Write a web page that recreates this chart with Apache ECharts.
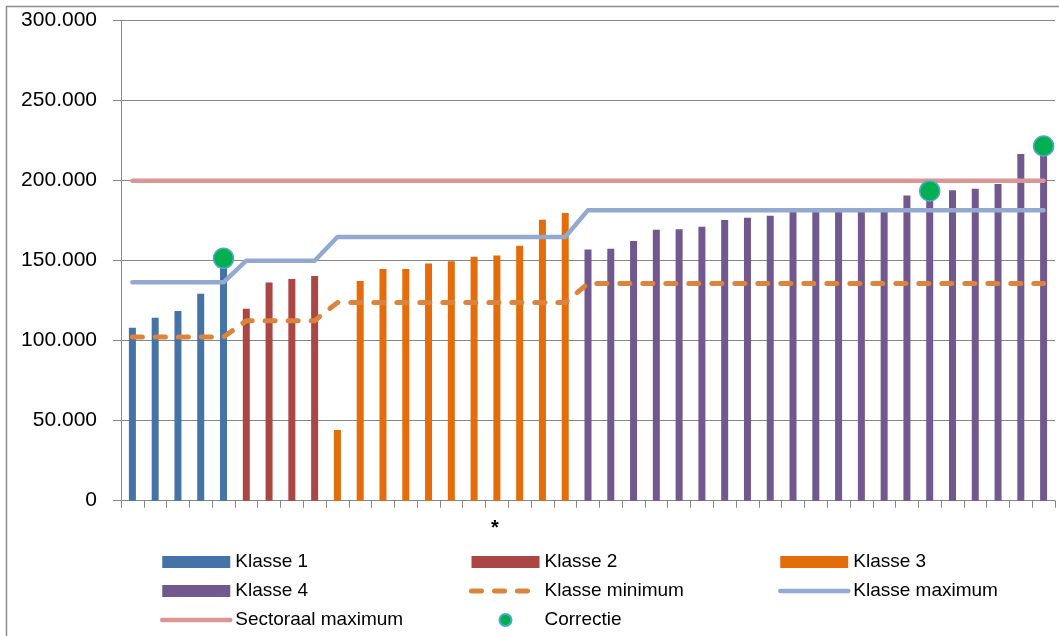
<!DOCTYPE html>
<html>
<head>
<meta charset="utf-8">
<style>
  html, body { margin: 0; padding: 0; background: #fff; }
  #main { width: 1059px; height: 636px; }
</style>
<script src="https://cdn.jsdelivr.net/npm/echarts@6/dist/echarts.min.js"></script>
</head>
<body>
<div id="main"></div>
<script>
// waarden per klasse, van links naar rechts
var klasse1 = [108100, 114400, 118500, 129400, 151000];
var klasse2 = [120000, 136400, 138600, 140400];
var klasse3 = [44200, 137300, 144800, 144800, 148300, 149600, 152500, 153300, 159400, 175600, 179800];
var klasse4 = [157000, 157500, 162300, 169400, 169600, 171200, 175400, 176900, 178100,
  180500, 181000, 181000, 181000, 181500, 190800, 193600, 194000, 195000, 198000, 216700, 221700];

// grenzen per klasse (1 t/m 4)
var klasseMin = [102300, 112500, 123800, 135800];
var klasseMax = [136500, 150000, 164800, 181600];
var sectoraalMax = 200000;

// correctiepunten: positie (0-based) en waarde
var correctieIdx = [4, 35, 40];
var correctieVal = [151500, 193600, 221700];

var yTicks = [0, 50000, 100000, 150000, 200000, 250000, 300000];

var groepen = [klasse1, klasse2, klasse3, klasse4];
var n = 0;
groepen.forEach(function (g) { n += g.length; });
var categories = [];
for (var i = 0; i < n; i++) categories.push(String(i + 1));

function barData(k) {
  var out = [];
  groepen.forEach(function (g, gi) {
    g.forEach(function (v) { out.push(gi === k ? v : '-'); });
  });
  return out;
}
function stepData(levels) {
  var out = [];
  groepen.forEach(function (g, gi) {
    g.forEach(function () { out.push(levels[gi]); });
  });
  return out;
}
var sectoraalData = categories.map(function () { return sectoraalMax; });
var correctieData = categories.map(function () { return '-'; });
correctieIdx.forEach(function (idx, j) { correctieData[idx] = correctieVal[j]; });

function fmt(v) {
  return String(v).replace(/\B(?=(\d{3})+(?!\d))/g, '.');
}

var font = 'Liberation Sans';
var gridGrey = '#868686';

var myChart = echarts.init(document.getElementById('main'));

// lijn-items in de legenda zonder bolletje, balken als rechthoek
function lijnItem(name) {
  return { name: name, itemStyle: { opacity: 0 } };
}
function balkItem(name) {
  return { name: name, icon: 'rect' };
}

var legendBase = {
  orient: 'vertical',
  top: 552,
  padding: 0,
  itemWidth: 68,
  itemHeight: 12,
  itemGap: 9,
  selectedMode: false,
  lineStyle: { width: 'inherit' },
  textStyle: { fontFamily: font, fontSize: 19, color: '#000', lineHeight: 20 }
};

myChart.setOption({
  animation: false,
  backgroundColor: '#fff',
  grid: { left: 121, right: 4, top: 20.7, bottom: 135.3, containLabel: false },
  legend: [
    Object.assign({ left: 160, data: [balkItem('Klasse 1'), balkItem('Klasse 4'), lijnItem('Sectoraal maximum')] }, legendBase),
    Object.assign({ left: 469, data: [balkItem('Klasse 2'), lijnItem('Klasse minimum'), 'Correctie'] }, legendBase),
    Object.assign({ left: 778, data: [balkItem('Klasse 3'), lijnItem('Klasse maximum')] }, legendBase)
  ],
  graphic: [
    {
      type: 'rect',
      shape: { x: 6.5, y: 6.5, width: 1200, height: 800 },
      style: { fill: 'none', stroke: '#8c8c8c', lineWidth: 1.5 },
      silent: true
    },
    {
      type: 'text',
      left: 491,
      top: 518,
      style: { text: '*', font: 'bold 20px ' + font, fill: '#000' }
    }
  ],
  xAxis: {
    type: 'category',
    data: categories,
    boundaryGap: true,
    axisLine: { lineStyle: { color: gridGrey, width: 1 } },
    axisTick: { show: true, interval: 0, length: 7, lineStyle: { color: gridGrey } },
    axisLabel: { show: false },
    splitLine: { show: false }
  },
  yAxis: {
    type: 'value',
    min: yTicks[0],
    max: yTicks[yTicks.length - 1],
    interval: yTicks[1] - yTicks[0],
    axisLine: { show: true, lineStyle: { color: gridGrey, width: 1 } },
    axisTick: { show: true, length: 8, lineStyle: { color: gridGrey } },
    axisLabel: {
      margin: 24,
      fontFamily: font,
      fontSize: 21,
      color: '#000',
      formatter: function (v) { return fmt(v); }
    },
    splitLine: { show: true, lineStyle: { color: gridGrey, width: 1 } }
  },
  series: [
    { name: 'Klasse 1', type: 'bar', stack: 'k', barWidth: 7, data: barData(0), itemStyle: { color: '#4572A7' } },
    { name: 'Klasse 2', type: 'bar', stack: 'k', barWidth: 7, data: barData(1), itemStyle: { color: '#AA4643' } },
    { name: 'Klasse 3', type: 'bar', stack: 'k', barWidth: 7, data: barData(2), itemStyle: { color: '#E46C0A' } },
    { name: 'Klasse 4', type: 'bar', stack: 'k', barWidth: 7, data: barData(3), itemStyle: { color: '#71588F' } },
    {
      name: 'Sectoraal maximum', type: 'line', data: sectoraalData, symbol: 'none',
      lineStyle: { color: '#D99694', width: 4.5, cap: 'round' }, itemStyle: { color: '#D99694' }, z: 3
    },
    {
      name: 'Klasse maximum', type: 'line', data: stepData(klasseMax), symbol: 'none',
      lineStyle: { color: '#93A9CF', width: 4.5, cap: 'round', join: 'round' }, itemStyle: { color: '#93A9CF' }, z: 3
    },
    {
      name: 'Klasse minimum', type: 'line', data: stepData(klasseMin), symbol: 'none',
      lineStyle: { color: '#DB843D', width: 5, type: [10, 13], cap: 'round', join: 'round' },
      itemStyle: { color: '#DB843D' }, z: 3
    },
    {
      name: 'Correctie', type: 'scatter', data: correctieData, symbol: 'circle', symbolSize: 20,
      itemStyle: { color: '#00B050', borderColor: '#4BACC6', borderWidth: 1.5, opacity: 1 }, z: 5
    }
  ]
});
</script>
</body>
</html>
